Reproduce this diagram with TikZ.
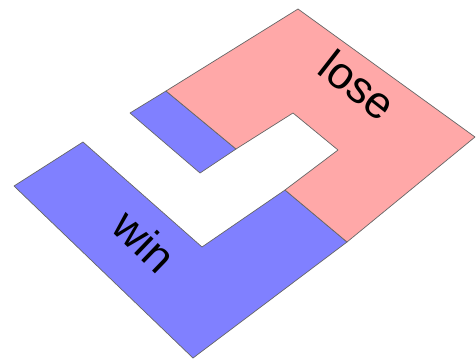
\documentclass[tikz,border=0pt]{standalone}
\usepackage{fontspec}
\setmainfont{Liberation Sans}
\definecolor{winblue}{RGB}{128,128,255}
\definecolor{losepink}{RGB}{255,168,168}
\begin{document}
\begin{tikzpicture}[x=1pt, y=-1pt, every node/.style={font=\fontsize{45}{45}\selectfont},
  region/.style={draw=black!60, line width=0.7pt, line join=round}]
  \useasboundingbox (0,0) rectangle (476,362);
  % blue part, lower and upper bar
  \filldraw[region, fill=winblue] (14,186) -- (83,142) -- (202,247) -- (285,190)
    -- (347,242) -- (193,358) -- cycle;
  \filldraw[region, fill=winblue] (130,113) -- (166,91) -- (236,149) -- (200,173) -- cycle;
  % pink part
  \filldraw[region, fill=losepink] (166,91) -- (298,9) -- (475,137) -- (347,242)
    -- (285,190) -- (338,150) -- (293,113) -- (236,149) -- cycle;
  \node[rotate=-44] (win) at (145,241) {win};
  \node[rotate=-38] (lose) at (358,85) {lose};
\end{tikzpicture}
\end{document}
